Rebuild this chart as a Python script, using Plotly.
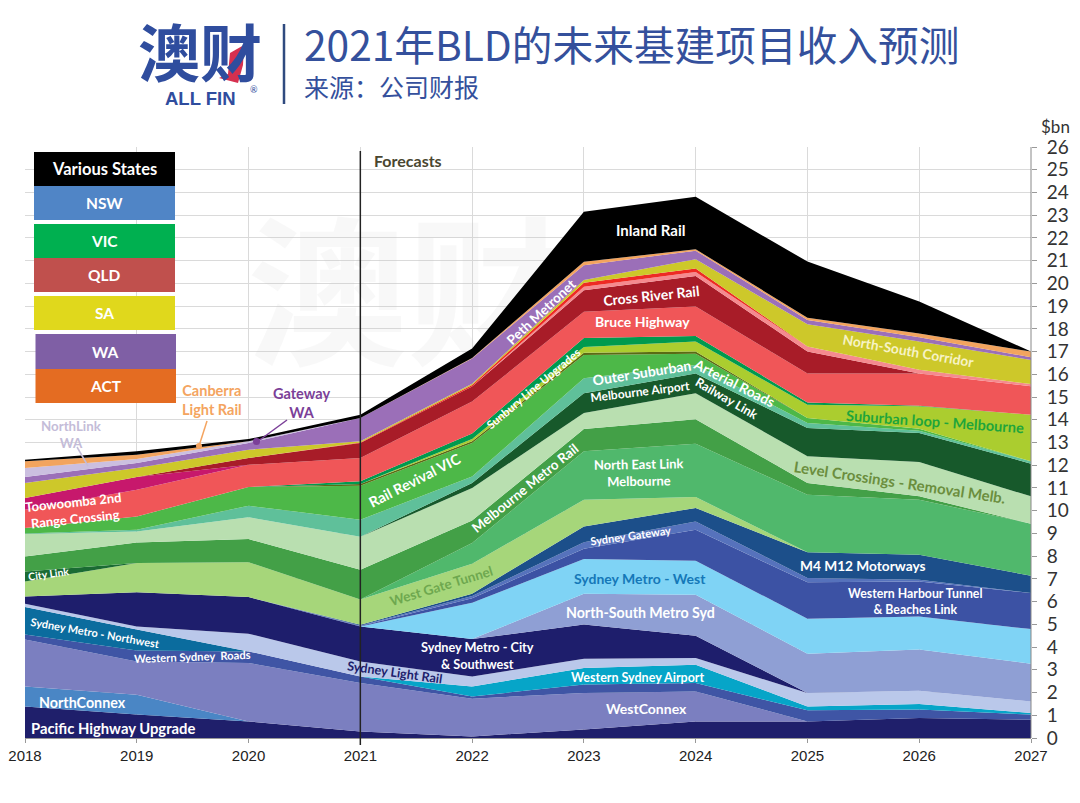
import plotly.graph_objects as go

years = [2018, 2019, 2020, 2021, 2022, 2023, 2024, 2025, 2026, 2027]
y_ticks = list(range(0, 27))

# Cumulative top of each stacked project band, $bn, bottom to top
pacific = [1.39, 1.03, .73, .29, .07, .37, .73, .73, .88, .80]
northconnex = [2.27, 1.90, .73, .29, .07, .37, .73, .73, .88, .80]
westconnex = [4.33, 3.37, 3.30, 2.42, 1.73, 1.98, 2.05, .73, .88, .80]
wsyd_roads = [4.55, 3.85, 3.81, 2.71, 1.83, 2.35, 2.42, 1.22, 1.25, 1.03]
metro_nw = [5.76, 4.77, 3.81, 2.71, 1.83, 2.35, 2.42, 1.22, 1.25, 1.03]
wsyd_airport = [5.76, 4.77, 3.81, 2.71, 2.27, 3.08, 3.22, 1.39, 1.50, 1.10]
light_rail = [5.91, 4.91, 4.59, 3.37, 2.71, 3.49, 3.52, 1.98, 2.08, 1.61]
metro_city = [6.23, 6.41, 6.20, 4.91, 4.35, 4.99, 4.50, 1.98, 2.08, 1.61]
ns_metro = [6.23, 6.41, 6.20, 4.91, 4.35, 6.35, 6.30, 3.71, 3.89, 3.27]
metro_west = [6.23, 6.41, 6.20, 4.91, 5.95, 7.87, 7.80, 5.25, 5.35, 4.79]
harbour = [6.23, 6.41, 6.20, 4.93, 6.15, 8.33, 9.16, 6.85, 6.89, 6.38]
gateway_syd = [6.23, 6.41, 6.20, 4.95, 6.25, 8.61, 9.53, 7.04, 6.96, 6.38]
m4m12 = [6.23, 6.41, 6.20, 4.98, 6.35, 9.31, 10.12, 8.17, 8.06, 7.14]
west_gate = [6.89, 7.70, 7.73, 6.09, 7.67, 10.48, 10.60, 8.17, 8.06, 7.14]
city_link = [7.33, 7.70, 7.73, 6.09, 7.67, 10.48, 10.60, 8.17, 8.06, 7.14]
ne_link = [7.33, 7.70, 7.73, 6.09, 8.58, 12.61, 12.94, 10.70, 10.48, 9.43]
melb_metro = [7.99, 8.60, 8.75, 7.40, 9.57, 13.59, 14.02, 11.22, 10.63, 9.43]
level_x = [8.97, 9.09, 9.71, 8.85, 11.00, 14.30, 15.17, 12.39, 12.14, 10.63]
airport_rail = [8.97, 9.09, 9.71, 8.85, 11.22, 15.17, 16.04, 13.64, 13.42, 12.07]
outer_sub = [9.00, 9.16, 10.22, 9.60, 11.50, 15.83, 16.41, 13.86, 13.52, 12.17]
rail_revival = [9.24, 9.75, 11.04, 11.10, 12.98, 16.85, 16.90, 14.08, 13.60, 12.17]
vic_other = [9.24, 9.75, 11.04, 11.17, 13.05, 16.95, 17.00, 14.08, 13.60, 12.17]
sub_loop = [9.24, 9.75, 11.04, 11.17, 13.15, 17.20, 17.44, 14.66, 14.60, 14.22]
sunbury = [9.24, 9.75, 11.04, 11.29, 13.40, 17.60, 17.69, 14.76, 14.62, 14.22]
bruce = [10.04, 10.92, 12.02, 12.32, 14.80, 18.75, 18.98, 16.04, 16.04, 15.48]
toowoomba = [10.56, 11.48, 12.02, 12.32, 14.80, 18.75, 18.98, 16.04, 16.04, 15.48]
cross_river = [10.56, 11.48, 12.32, 12.98, 15.46, 19.70, 20.33, 17.00, 16.04, 15.48]
qld_other = [10.56, 11.48, 12.32, 12.98, 15.46, 19.85, 20.50, 17.22, 16.20, 15.57]
qld_red = [10.56, 11.48, 12.32, 13.00, 15.53, 20.03, 20.66, 17.22, 16.20, 15.57]
ns_corridor = [11.22, 11.88, 12.68, 13.05, 15.58, 20.15, 21.06, 18.20, 17.44, 16.63]
metronet = [11.48, 12.10, 12.98, 14.08, 16.70, 20.80, 21.44, 18.39, 17.63, 16.75]
northlink = [11.88, 12.27, 13.05, 14.08, 16.70, 20.80, 21.44, 18.39, 17.63, 16.75]
canberra = [12.17, 12.46, 13.05, 14.08, 16.72, 20.95, 21.50, 18.49, 17.80, 17.00]
inland = [12.24, 12.61, 13.15, 14.22, 17.13, 23.15, 23.81, 20.96, 19.20, 17.00]

bands = [
    ("Pacific Highway Upgrade", pacific, "#1F1F6B"),
    ("NorthConnex", northconnex, "#4A86C5"),
    ("WestConnex", westconnex, "#7B7FC0"),
    ("Western Sydney Roads", wsyd_roads, "#3F55A5"),
    ("Sydney Metro - Northwest", metro_nw, "#0B6C9E"),
    ("Western Sydney Airport", wsyd_airport, "#06A5C8"),
    ("Sydney Light Rail", light_rail, "#BAC8EA"),
    ("Sydney Metro - City & Southwest", metro_city, "#1E1E6C"),
    ("North-South Metro Syd", ns_metro, "#8F9FD4"),
    ("Sydney Metro - West", metro_west, "#7FD3F5"),
    ("Western Harbour Tunnel & Beaches Link", harbour, "#3C52A4"),
    ("Sydney Gateway", gateway_syd, "#5672BC"),
    ("M4 M12 Motorways", m4m12, "#1C4F8A"),
    ("West Gate Tunnel", west_gate, "#A6D67A"),
    ("City Link", city_link, "#1A6B33"),
    ("North East Link Melbourne", ne_link, "#50B86C"),
    ("Melbourne Metro Rail", melb_metro, "#43A047"),
    ("Level Crossings - Removal Melb.", level_x, "#B9DFB0"),
    ("Melbourne Airport Railway Link", airport_rail, "#17592B"),
    ("Outer Suburban Arterial Roads", outer_sub, "#5FC09A"),
    ("Rail Revival VIC", rail_revival, "#4DB848"),
    ("VIC other", vic_other, "#5A6B14"),
    ("Suburban loop - Melbourne", sub_loop, "#ABCD2F"),
    ("Sunbury Line Upgrades", sunbury, "#009A4E"),
    ("Bruce Highway", bruce, "#F05658"),
    ("Toowoomba 2nd Range Crossing", toowoomba, "#C7186C"),
    ("Cross River Rail", cross_river, "#A81C28"),
    ("QLD other", qld_other, "#F58A8F"),
    ("QLD red", qld_red, "#EE2A24"),
    ("North-South Corridor", ns_corridor, "#CDC82A"),
    ("Perth Metronet", metronet, "#9B6FB8"),
    ("NorthLink WA", northlink, "#CBBFE0"),
    ("Canberra Light Rail", canberra, "#F2A45F"),
    ("Inland Rail", inland, "#000000"),
]

legend_items = [
    ("Various States", "#000000", 34, 175, 152, 186),
    ("NSW", "#5085C6", 34, 175, 186, 220),
    ("VIC", "#00B050", 34, 175, 224, 258),
    ("QLD", "#C0504D", 34, 175, 258, 292),
    ("SA", "#E0D81C", 34, 175, 296, 330),
    ("WA", "#7F5FA5", 35.5, 176, 334, 369),
    ("ACT", "#E46C22", 35.5, 176, 369, 403),
]

L, R, T, B = 25, 1031, 147, 738
W, H = 1080, 803
LATIN = "Lato, 'Liberation Sans', sans-serif"
CJK = "'Noto Sans CJK SC', sans-serif"
BLUE = "#34509C"


def px(x):
    return (x - L) / (R - L)


def py(y):
    return (B - y) / (B - T)


fig = go.Figure()

# faint watermark behind the areas
fig.add_trace(go.Scatter(x=[2021.42], y=[18.7], mode="text", text=["<b>澳财</b>"],
                         textfont=dict(size=160, family=CJK, color="rgba(190,190,190,0.11)"),
                         hoverinfo="skip", showlegend=False))

for i, (name, tops, color) in enumerate(bands):
    fig.add_trace(go.Scatter(x=years, y=tops, name=name, mode="none",
                             fill="tozeroy" if i == 0 else "tonexty",
                             fillcolor=color, showlegend=False))

shapes = []
annos = []


def label(text, x, y, size=12, color="white", angle=0, bold=True, family=LATIN):
    t = f"<b>{text}</b>" if bold else text
    annos.append(dict(text=t, x=px(x), y=py(y), xref="paper", yref="paper",
                      xanchor="center", yanchor="middle",
                      showarrow=False, textangle=angle, align="center",
                      font=dict(size=size, color=color, family=family)))


def seg(x0, y0, x1, y1, color, width=1.5):
    shapes.append(dict(type="line", xref="paper", yref="paper", x0=px(x0), y0=py(y0),
                       x1=px(x1), y1=py(y1), line=dict(color=color, width=width)))


for text, color, x0, x1, y0, y1 in legend_items:
    shapes.append(dict(type="rect", xref="paper", yref="paper", x0=px(x0), x1=px(x1),
                       y0=py(y0), y1=py(y1), fillcolor=color, line=dict(width=0)))
    label(text, (x0 + x1) / 2, (y0 + y1) / 2, 16.5 if text == "Various States" else 15.5, "white")

# Forecast divider
shapes.append(dict(type="line", xref="x", yref="paper", x0=2021, x1=2021,
                   y0=py(745), y1=py(151), line=dict(color="#222222", width=1.5)))
label("Forecasts", 408, 160, 16, "#4A4630")

# Right-hand axis line and header rule
seg(1031, 147, 1031, 738, "#888888", 1)
seg(284, 24, 284, 104, "#2F4A7F", 2.5)

# Callout leaders
seg(77, 447, 88, 466, "#C4BCD8", 1.5)
seg(207, 421, 199, 446, "#F4A460", 1.5)
seg(287, 420, 257, 442, "#7B3F98", 1.5)
shapes.append(dict(type="circle", xref="paper", yref="paper", x0=px(196), x1=px(202),
                   y0=py(449), y1=py(443), fillcolor="#F4A460", line=dict(width=0)))
shapes.append(dict(type="circle", xref="paper", yref="paper", x0=px(253), x1=px(260),
                   y0=py(445), y1=py(438), fillcolor="#7B3F98", line=dict(width=0)))

# Band labels
label("Pacific Highway Upgrade", 113, 728, 14.8)
label("NorthConnex", 82, 702, 14.3)
label("Western Sydney  Roads", 192, 656, 11.2, angle=-2)
label("Sydney Metro - Northwest", 95, 632, 11, angle=10)
label("City Link", 48, 574, 10.5, angle=-8)
label("Toowoomba 2nd<br>Range Crossing", 74, 511, 13, angle=-6)
label("NorthLink<br>WA", 71, 434, 13.3, "#C4BCD8")
label("Canberra<br>Light Rail", 212, 400, 14.5, "#F4A460")
label("Gateway<br>WA", 301, 403, 14.5, "#7B3F98")
label("Sydney Light Rail", 395, 672, 12.7, "#1E1E6C", angle=8)
label("Sydney Metro - City<br>& Southwest", 477, 655, 12.7)
label("Western Sydney Airport", 637, 677, 12.5)
label("WestConnex", 646, 708, 14)
label("North-South Metro Syd", 640, 612, 14.2)
label("Sydney Metro - West", 640, 578, 14, "#1578B8")
label("Sydney Gateway", 630, 535, 11, angle=-8)
label("North East Link<br>Melbourne", 639, 472, 13, angle=-1)
label("West Gate Tunnel", 441, 586, 13.5, "#6EA84F", angle=-17)
label("Melbourne Metro Rail", 525, 488, 13.5, angle=-39)
label("Rail Revival VIC", 414, 480, 14.5, angle=-27)
label("Sunbury Line Upgrades", 533, 388, 11.5, angle=-40)
label("Outer Suburban", 642, 372, 14, angle=-9)
label("Arterial Roads", 734, 382, 14, angle=27)
label("Melbourne Airport", 640, 391, 12, angle=-7)
label("Railway Link", 727, 398, 12.5, angle=30)
label("Peth Metronet", 541, 312, 13.5, angle=-43)
label("Inland Rail", 650, 230, 15)
label("Cross River Rail", 651, 295, 14, angle=-6)
label("Bruce Highway", 642, 321, 14)
label("North-South Corridor", 909, 350, 13.8, "#F7F3C6", angle=10)
label("Suburban loop - Melbourne", 935, 421, 14.6, "#1FA53B", angle=4)
label("Level Crossings - Removal Melb.", 900, 482, 15, "#6B8E3E", angle=8.5)
label("M4 M12 Motorways", 863, 565, 13.7)
label("Western Harbour Tunnel<br>& Beaches Link", 915, 601, 12.3)
label("$bn", 1055, 127, 17, "#333333", bold=False)

# Header
label("澳财", 200, 50, 62, "#2F4D9E", family=CJK)
label("ALL FIN", 200, 98, 18.5, "#2F4D9E", family="'Liberation Sans', sans-serif")
label("®", 254, 89, 9, "#2F4D9E", bold=False)
annos.append(dict(text="2021年BLD的未来基建项目收入预测", x=px(302), y=py(44), xref="paper",
                  yref="paper", xanchor="left", yanchor="middle", showarrow=False,
                  font=dict(size=40.7, color=BLUE, family=CJK)))
annos.append(dict(text="来源：公司财报", x=px(302), y=py(86), xref="paper", yref="paper",
                  xanchor="left", yanchor="middle", showarrow=False,
                  font=dict(size=25, color=BLUE, family=CJK)))

# Logo accent
pts = [(230, 53), (244, 45), (243, 65), (238, 83), (219, 78), (228, 74)]
path = "M " + " L ".join(f"{px(a):.5f},{py(b):.5f}" for a, b in pts) + " Z"
shapes.append(dict(type="path", xref="paper", yref="paper", path=path,
                   fillcolor="#D6304F", line=dict(width=0), layer="above"))

fig.update_layout(
    width=W, height=H,
    margin=dict(l=L, r=W - R, t=T, b=H - B, autoexpand=False),
    paper_bgcolor="white", plot_bgcolor="white",
    showlegend=False,
    xaxis=dict(range=[2018, 2027], tickmode="array", tickvals=years, ticktext=[str(y) for y in years],
               automargin=False,
               showgrid=True, gridcolor="#DADADA", gridwidth=1, zeroline=False,
               showline=True, linecolor="#999999", ticks="outside", ticklen=4, tickcolor="#999999",
               tickfont=dict(size=15, color="#222222", family="'Liberation Sans', sans-serif")),
    yaxis=dict(range=[0, 26], side="right", tickmode="array", tickvals=y_ticks,
               automargin=False, ticklabelstandoff=6,
               showgrid=True, gridcolor="#DADADA", gridwidth=1, zeroline=False,
               ticks="outside", ticklen=5, tickcolor="#999999",
               tickfont=dict(size=19, color="#333333", family=LATIN)),
    shapes=shapes, annotations=annos,
)

fig.write_html("out.html", config=dict(displayModeBar=False),
               post_script="document.body.style.margin='0';")
